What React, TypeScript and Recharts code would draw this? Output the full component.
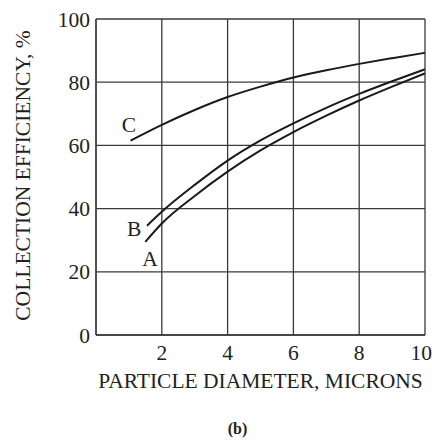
import React from 'react';
import { LineChart, Line, XAxis, YAxis, CartesianGrid, ReferenceDot } from 'recharts';

const seriesC = [
  { x: 1.05, y: 61.5 }, { x: 2, y: 66.5 }, { x: 3, y: 71.2 }, { x: 4, y: 75.3 },
  { x: 5, y: 78.6 }, { x: 6, y: 81.5 }, { x: 7, y: 83.8 }, { x: 8, y: 85.8 },
  { x: 9, y: 87.6 }, { x: 10, y: 89.3 },
];
const seriesB = [
  { x: 1.55, y: 34.6 }, { x: 2, y: 39.0 }, { x: 3, y: 47.5 }, { x: 4, y: 55.2 },
  { x: 5, y: 61.6 }, { x: 6, y: 67.0 }, { x: 7, y: 71.9 }, { x: 8, y: 76.3 },
  { x: 9, y: 80.3 }, { x: 10, y: 84.1 },
];
const seriesA = [
  { x: 1.5, y: 29.5 }, { x: 2, y: 35.3 }, { x: 3, y: 44.0 }, { x: 4, y: 51.7 },
  { x: 5, y: 58.4 }, { x: 6, y: 64.2 }, { x: 7, y: 69.4 }, { x: 8, y: 74.2 },
  { x: 9, y: 78.6 }, { x: 10, y: 82.8 },
];
const curveLabels = [
  { name: 'C', x: 1.0, y: 66.5 },
  { name: 'B', x: 1.16, y: 33.9 },
  { name: 'A', x: 1.64, y: 24.1 },
];
const xTicks = [2, 4, 6, 8, 10];
const yTicks = [0, 20, 40, 60, 80, 100];
const xTitle = 'PARTICLE DIAMETER, MICRONS';
const yTitle = 'COLLECTION EFFICIENCY, %';
const caption = '(b)';

const FONT = '"Liberation Serif", "Times New Roman", serif';
const TEXT = '#231f20';
const FS = 21.5;

const XLabel = (props: any) => {
  const vb = props.viewBox || { x: 96, y: 335, width: 329, height: 50 };
  const cx = vb.x + vb.width / 2;
  return (
    <g>
      <text x={cx} y={vb.y + 53} textAnchor="middle" fontFamily={FONT} fontSize={FS} fill={TEXT}>
        {xTitle}
      </text>
      <text x={cx - 23} y={vb.y + 99} textAnchor="middle" fontFamily={FONT} fontSize={16} fontWeight="bold" fill={TEXT}>
        {caption}
      </text>
    </g>
  );
};

const YLabel = (props: any) => {
  const vb = props.viewBox || { x: 0, y: 19, width: 96, height: 316 };
  const cx = 30;
  const cy = vb.y + vb.height / 2 - 1.5;
  return (
    <text x={cx} y={cy} textAnchor="middle" fontFamily={FONT} fontSize={FS} fill={TEXT}
      transform={`rotate(-90, ${cx}, ${cy})`}>
      {yTitle}
    </text>
  );
};

export default function App() {
  return (
    <div style={{ position: 'absolute', left: 0, top: 0, width: 432, height: 441, background: '#fff' }}>
      <LineChart width={432} height={441} margin={{ top: 19, right: 7, bottom: 56, left: 0 }}>
        <CartesianGrid stroke="#3a3a3a" strokeWidth={1.3} />
        <XAxis
          type="number"
          dataKey="x"
          domain={[0, 10]}
          ticks={xTicks}
          tickLine={false}
          tickSize={0}
          tickMargin={10}
          height={50}
          axisLine={{ stroke: '#3a3a3a', strokeWidth: 1.3 }}
          tick={{ fontFamily: FONT, fontSize: FS, fill: TEXT }}
          allowDataOverflow
          label={<XLabel />}
        />
        <YAxis
          type="number"
          dataKey="y"
          domain={[0, 100]}
          ticks={yTicks}
          tickLine={false}
          tickSize={0}
          tickMargin={6}
          width={96}
          axisLine={{ stroke: '#3a3a3a', strokeWidth: 1.3 }}
          tick={{ fontFamily: FONT, fontSize: FS, fill: TEXT }}
          label={<YLabel />}
        />
        <Line data={seriesC} dataKey="y" type="monotone" stroke="#1a1a1a" strokeWidth={2} dot={false} isAnimationActive={false} />
        <Line data={seriesB} dataKey="y" type="monotone" stroke="#1a1a1a" strokeWidth={2} dot={false} isAnimationActive={false} />
        <Line data={seriesA} dataKey="y" type="monotone" stroke="#1a1a1a" strokeWidth={2} dot={false} isAnimationActive={false} />
        {curveLabels.map((l) => (
          <ReferenceDot
            key={l.name}
            x={l.x}
            y={l.y}
            r={0}
            fill="none"
            stroke="none"
            label={{ value: l.name, position: 'center', fontFamily: FONT, fontSize: FS, fill: TEXT }}
          />
        ))}
      </LineChart>
    </div>
  );
}
